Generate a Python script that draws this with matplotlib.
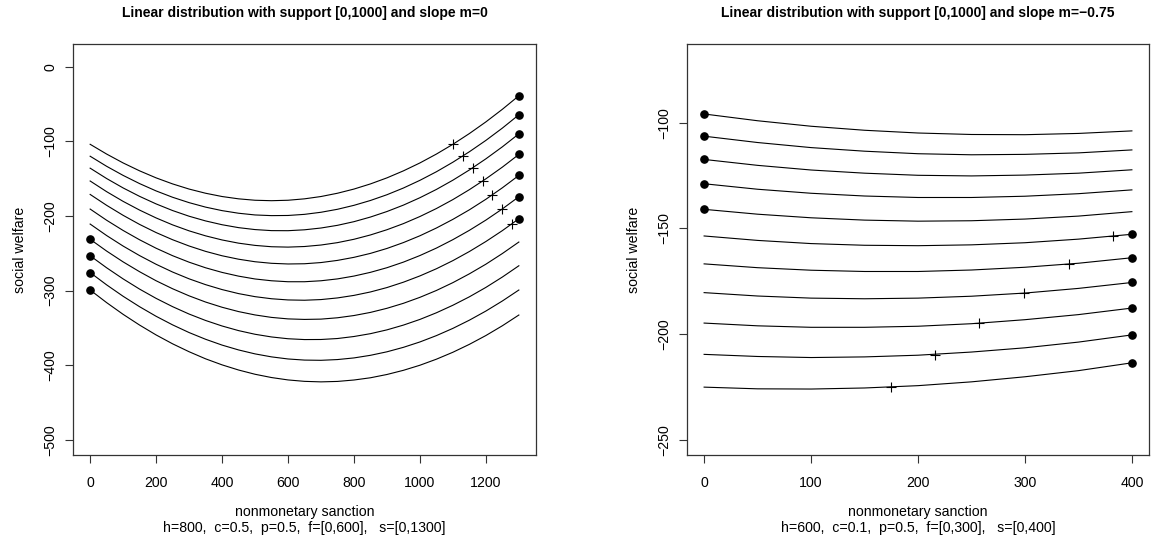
import matplotlib
matplotlib.use("Agg")
import matplotlib.pyplot as plt
import numpy as np

plt.rcParams["font.family"] = ["Liberation Sans", "DejaVu Sans"]

# ---- left panel: slope m=0, s in [0,1300]
left_s = [0, 50, 100, 150, 200, 250, 300, 350, 400, 450, 500, 550, 600, 650, 700,
          750, 800, 850, 900, 950, 1000, 1050, 1100, 1150, 1200, 1250, 1300]
left_w = [
    [-104.0, -117.1, -129.0, -139.6, -149.0, -157.1, -164.0, -169.6, -174.0, -177.1, -179.0, -179.6, -179.0, -177.1,
     -174.0, -169.6, -164.0, -157.1, -149.0, -139.6, -129.0, -117.1, -104.0, -89.6, -74.0, -57.1, -39.0],
    [-120.0, -133.5, -145.7, -156.7, -166.5, -175.0, -182.2, -188.2, -192.9, -196.4, -198.7, -199.6, -199.4, -197.9,
     -195.1, -191.1, -185.8, -179.3, -171.6, -162.6, -152.3, -140.8, -128.0, -114.0, -98.8, -82.3, -64.5],
    [-136.0, -149.9, -162.5, -173.8, -183.9, -192.8, -200.4, -206.7, -211.8, -215.7, -218.3, -219.7, -219.8, -218.6,
     -216.2, -212.6, -207.7, -201.5, -194.1, -185.5, -175.6, -164.5, -152.1, -138.4, -123.5, -107.4, -90.0],
    [-153.2, -167.5, -180.5, -192.2, -202.7, -212.0, -220.0, -226.7, -232.2, -236.5, -239.5, -241.3, -241.8, -241.0,
     -239.0, -235.8, -231.3, -225.5, -218.5, -210.3, -200.8, -190.1, -178.1, -164.8, -150.3, -134.6, -117.6],
    [-171.2, -185.8, -199.2, -211.4, -222.3, -231.9, -240.3, -247.5, -253.4, -258.0, -261.4, -263.5, -264.4, -264.1,
     -262.5, -259.6, -255.5, -250.2, -243.6, -235.7, -226.6, -216.2, -204.6, -191.8, -177.7, -162.3, -145.7],
    [-190.8, -205.8, -219.5, -232.0, -243.3, -253.3, -262.0, -269.5, -275.7, -280.7, -284.5, -286.9, -288.2, -288.2,
     -286.9, -284.4, -280.6, -275.6, -269.4, -261.9, -253.1, -243.1, -231.8, -219.3, -205.6, -190.6, -174.3],
    [-210.9, -226.3, -240.4, -253.2, -264.8, -275.2, -284.3, -292.1, -298.7, -304.1, -308.2, -311.0, -312.6, -313.0,
     -312.1, -309.9, -306.5, -301.9, -296.0, -288.8, -280.4, -270.8, -259.9, -247.7, -234.3, -219.7, -203.8],
    [-231.3, -247.1, -261.6, -274.8, -286.9, -297.6, -307.1, -315.4, -322.4, -328.2, -332.7, -336.0, -338.0, -338.7,
     -338.3, -336.5, -333.5, -329.3, -323.8, -317.1, -309.1, -299.9, -289.4, -277.6, -264.7, -250.4, -235.0],
    [-253.4, -269.5, -284.4, -298.1, -310.5, -321.6, -331.5, -340.1, -347.5, -353.7, -358.6, -362.2, -364.6, -365.7,
     -365.6, -364.3, -361.6, -357.8, -352.7, -346.3, -338.7, -329.8, -319.7, -308.4, -295.8, -281.9, -266.8],
    [-275.9, -292.4, -307.7, -321.7, -334.5, -346.0, -356.3, -365.3, -373.1, -379.6, -384.9, -388.9, -391.7, -393.2,
     -393.5, -392.5, -390.3, -386.8, -382.1, -376.1, -368.9, -360.4, -350.7, -339.7, -327.5, -314.0, -299.3],
    [-299.3, -316.2, -331.9, -346.3, -359.5, -371.4, -382.0, -391.5, -399.6, -406.5, -412.2, -416.6, -419.8, -421.7,
     -422.4, -421.8, -419.9, -416.9, -412.5, -406.9, -400.1, -392.0, -382.7, -372.1, -360.3, -347.2, -332.8],
]
left_opt_s = [1300, 1300, 1300, 1300, 1300, 1300, 1300, 0, 0, 0, 0]
left_opt_w = [-39.0, -64.5, -90.0, -117.6, -145.7, -174.3, -203.8, -231.3, -253.4, -275.9, -299.3]
left_cross_s = [1100, 1130, 1160, 1190, 1220, 1250, 1280]
left_cross_w = [-104.0, -119.8, -135.5, -153.3, -171.7, -190.6, -210.3]

# ---- right panel: slope m=-0.75, s in [0,400]
right_s = [0, 50, 100, 150, 200, 250, 300, 350, 400]
right_w = [
    [-95.9, -99.1, -101.7, -103.6, -104.9, -105.6, -105.7, -105.1, -103.9],
    [-106.4, -109.4, -111.8, -113.5, -114.7, -115.2, -115.0, -114.3, -112.9],
    [-117.4, -120.2, -122.4, -123.9, -124.9, -125.2, -124.8, -123.9, -122.3],
    [-128.9, -131.5, -133.4, -134.7, -135.4, -135.4, -134.8, -133.6, -131.8],
    [-141.0, -143.3, -145.0, -146.1, -146.6, -146.4, -145.6, -144.2, -142.1],
    [-153.6, -155.7, -157.2, -158.0, -158.2, -157.8, -156.8, -155.1, -152.8],
    [-166.8, -168.6, -169.8, -170.4, -170.4, -169.7, -168.4, -166.5, -163.9],
    [-180.4, -182.0, -183.0, -183.3, -183.0, -182.1, -180.6, -178.4, -175.6],
    [-194.8, -196.1, -196.8, -196.8, -196.3, -195.1, -193.2, -190.8, -187.7],
    [-209.6, -210.6, -211.1, -210.8, -210.0, -208.5, -206.5, -203.8, -200.4],
    [-225.1, -225.9, -226.0, -225.5, -224.4, -222.6, -220.2, -217.3, -213.6],
]
right_opt_s = [0, 0, 0, 0, 0, 400, 400, 400, 400, 400, 400]
right_opt_w = [-95.9, -106.4, -117.4, -128.9, -141.0, -152.8, -163.9, -175.6, -187.7, -200.4, -213.6]
right_cross_s = [382, 341, 299, 257, 216, 175]
right_cross_w = [-153.7, -166.8, -180.5, -194.8, -209.7, -225.0]

panels = [
    dict(s=left_s, w=left_w, os=left_opt_s, ow=left_opt_w, cs=left_cross_s, cw=left_cross_w,
         xlim=(-52, 1352), ylim=(-520.4, 30.4),
         xt=[0, 200, 400, 600, 800, 1000, 1200], yt=[-500, -400, -300, -200, -100, 0],
         title="Linear distribution with support [0,1000] and slope m=0",
         sub="h=800,  c=0.5,  p=0.5,  f=[0,600],   s=[0,1300]",
         rect=[73 / 1161, 92 / 547, 463 / 1161, 411 / 547]),
    dict(s=right_s, w=right_w, os=right_opt_s, ow=right_opt_w, cs=right_cross_s, cw=right_cross_w,
         xlim=(-16, 416), ylim=(-257.2, -62.8),
         xt=[0, 100, 200, 300, 400], yt=[-250, -200, -150, -100],
         title="Linear distribution with support [0,1000] and slope m=\u22120.75",
         sub="h=600,  c=0.1,  p=0.5,  f=[0,300],   s=[0,400]",
         rect=[687 / 1161, 92 / 547, 462 / 1161, 411 / 547]),
]

fs = 10.2
fig = plt.figure(figsize=(11.61, 5.47), dpi=100)
for p in panels:
    ax = fig.add_axes(p["rect"])
    for row in p["w"]:
        ax.plot(p["s"], row, color="black", lw=0.8, solid_joinstyle="round")
    ax.plot(p["os"], p["ow"], "o", color="black", ms=5.2, clip_on=False)
    ax.plot(p["cs"], p["cw"], "+", color="black", ms=6.8, mew=0.8)
    ax.set_xlim(*p["xlim"])
    ax.set_ylim(*p["ylim"])
    ax.set_xticks(p["xt"])
    ax.set_yticks(p["yt"])
    ax.set_yticklabels([str(v).replace("-", "\u2212") for v in p["yt"]])
    ax.tick_params(length=6, width=0.8, labelsize=fs, color="#333333")
    ax.tick_params(axis="x", pad=9)
    ax.tick_params(axis="y", pad=5)
    plt.setp(ax.get_yticklabels(), rotation=90, va="center")
    for sp in ax.spines.values():
        sp.set_linewidth(0.9)
        sp.set_color("#333333")
    ax.set_ylabel("social welfare", fontsize=fs, labelpad=12)
    cx = p["rect"][0] + p["rect"][2] / 2
    fig.text(cx, 1 - 13 / 547, p["title"], ha="center", va="center",
             fontsize=10, fontweight="bold")
    fig.text(cx, 1 - 512 / 547, "nonmonetary sanction", ha="center", va="center", fontsize=fs)
    fig.text(cx, 1 - 528 / 547, p["sub"], ha="center", va="center", fontsize=fs)

fig.savefig("out.png", dpi=100)
